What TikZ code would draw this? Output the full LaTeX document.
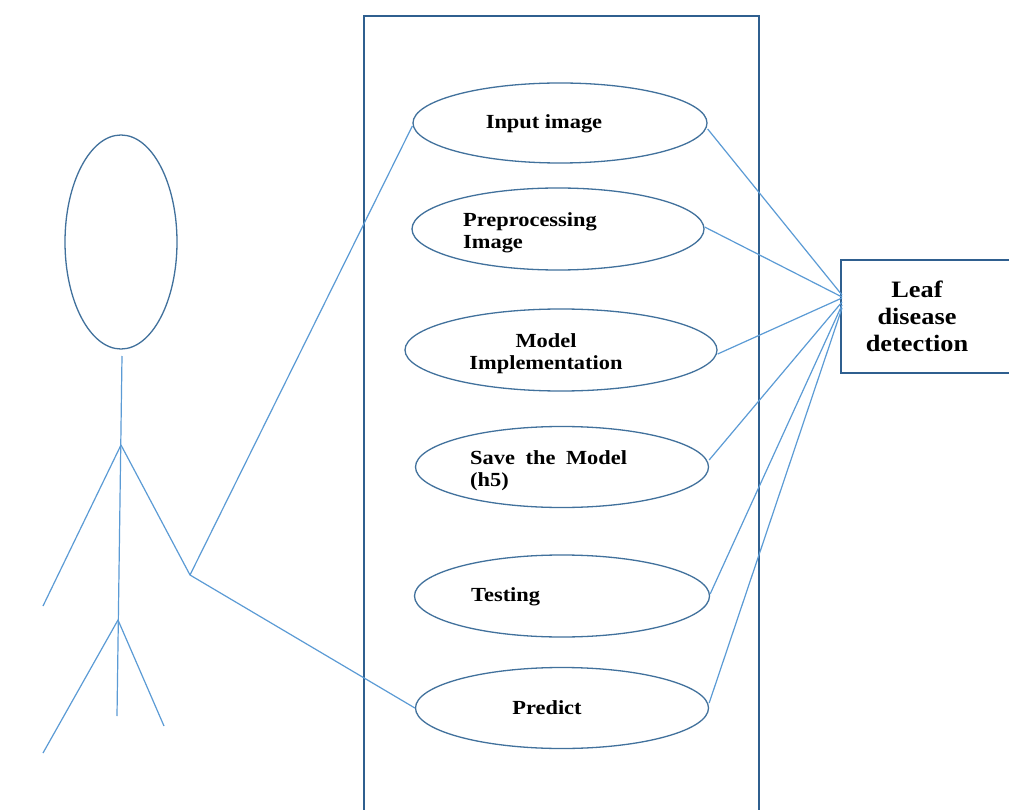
\documentclass[tikz,border=0pt]{standalone}
\usepackage{fontspec}
\setmainfont{Liberation Serif}
\newfontfamily\ucfont[FakeStretch=1.12]{Liberation Serif}
\usetikzlibrary{shapes.geometric}
\definecolor{edgeblue}{HTML}{41719C}
\definecolor{boxblue}{HTML}{2F5F8F}
\definecolor{linkblue}{HTML}{5B9BD5}
\tikzset{
  uc/.style={ellipse,draw=edgeblue,line width=1.3pt,inner sep=0pt,minimum width=#1},
  uctext/.style={font=\ucfont\bfseries\fontsize{20}{22}\selectfont,inner sep=0pt,text=black},
  link/.style={draw=linkblue,line width=1.2pt},
  person/.style={draw=linkblue,line width=1.2pt},
}
\begin{document}
\begin{tikzpicture}[x=1pt,y=-1pt]
\useasboundingbox (0,0) rectangle (1009,810);
\clip (0,0) rectangle (1009,810);
\fill[white] (0,0) rectangle (1009,810);
% system boundary
\draw[boxblue,line width=1.8pt] (364,830) -- (364,16) -- (759,16) -- (759,830);
% use cases
\node[uc=294pt,minimum height=80pt] (u1) at (560,123) {};
\node[uc=292pt,minimum height=82pt] (u2) at (558,229) {};
\node[uc=312pt,minimum height=82pt] (u3) at (561,350) {};
\node[uc=293pt,minimum height=81pt] (u4) at (562,467) {};
\node[uc=295pt,minimum height=82pt] (u5) at (562,596) {};
\node[uc=293pt,minimum height=81pt] (u6) at (562,708) {};
\node[uctext] (t1) at (544,124) {Input image};
\node[uctext,anchor=west,align=left] (t2) at (463,233) {Preprocessing\\Image};
\node[uctext,align=center] (t3) at (546,354) {Model\\Implementation};
\node[uctext,anchor=west,align=left] (t4) at (470,471) {Save\hspace{5pt} the\hspace{5pt} Model\\(h5)};
\node[uctext,anchor=west] (t5) at (471,597) {Testing};
\node[uctext] (t6) at (547,708) {Predict};
% system box
\draw[boxblue,line width=1.5pt] (841,260) rectangle (1015,373);
\node[font=\ucfont\bfseries\fontsize{23.5}{27}\selectfont,align=center,inner sep=0pt] (leaf) at (917,316) {Leaf\\disease\\detection};
\coordinate (c1) at (842,295);
\coordinate (c2) at (842,297);
\coordinate (c3) at (842,298);
\coordinate (c4) at (842,302);
\coordinate (c5) at (842,305);
\coordinate (c6) at (842,308);
% actor
\draw[edgeblue,line width=1.3pt] (121,242) ellipse [x radius=56,y radius=107];
\coordinate (neck) at (122,356);
\coordinate (shoulder) at (121,445);
\coordinate (hip) at (118,620);
\coordinate (foot) at (117,716);
\coordinate (lhand) at (43,606);
\coordinate (hand) at (190,575);
\coordinate (lfoot) at (43,753);
\coordinate (rfoot) at (164,726);
\draw[person] (neck) -- (foot);
\draw[person] (shoulder) -- (lhand);
\draw[person] (shoulder) -- (hand);
\draw[person] (hip) -- (lfoot);
\draw[person] (hip) -- (rfoot);
% links from actor
\draw[link] (hand) -- ([yshift=-3pt]u1.west);
\draw[link] (hand) -- (u6.west);
% links to system
\draw[link] ([yshift=-6pt]u1.east) -- (c1);
\draw[link] ([yshift=2pt]u2.east) -- (c2);
\draw[link] ([yshift=-4pt]u3.east) -- (c3);
\draw[link] ([yshift=7pt]u4.east) -- (c4);
\draw[link] ([yshift=2pt]u5.east) -- (c5);
\draw[link] ([yshift=5pt]u6.east) -- (c6);
\end{tikzpicture}
\end{document}
